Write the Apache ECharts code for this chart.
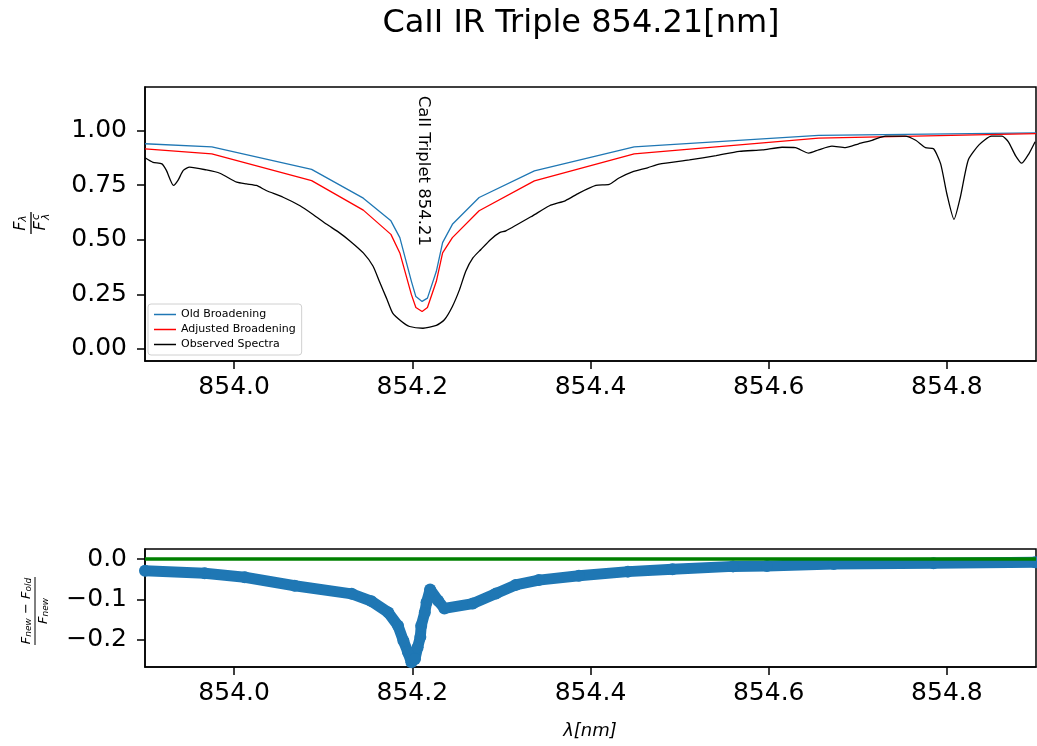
<!DOCTYPE html>
<html>
<head>
<meta charset="utf-8">
<script src="https://cdn.jsdelivr.net/npm/echarts@6/dist/echarts.min.js"></script>
<style>
  html, body { margin: 0; padding: 0; background: #fff; }
  #main { width: 1037px; height: 746px; }
</style>
</head>
<body>
<div id="main"></div>
<script>
// model grid (sparse)
const wlModel = [853.900, 853.975, 854.087, 854.145, 854.176, 854.186, 854.199, 854.204, 854.211,
  854.217, 854.227, 854.234, 854.245, 854.275, 854.337, 854.449, 854.656, 854.900]
const fluxOld = [0.940, 0.926, 0.823, 0.691, 0.587, 0.510, 0.310, 0.240, 0.218,
  0.233, 0.356, 0.487, 0.571, 0.694, 0.816, 0.926, 0.978, 0.990]
const fluxAdj = [0.917, 0.894, 0.771, 0.636, 0.525, 0.440, 0.249, 0.190, 0.172,
  0.190, 0.310, 0.440, 0.510, 0.633, 0.770, 0.894, 0.966, 0.986]

// observed spectrum
const wlObs = [853.900, 853.909, 853.919, 853.924, 853.932, 853.937, 853.943, 853.950, 853.969, 853.984,
  854.003, 854.014, 854.025, 854.036, 854.055, 854.074, 854.089, 854.104, 854.118, 854.130,
  854.145, 854.156, 854.163, 854.171, 854.178, 854.188, 854.197, 854.212, 854.227, 854.236,
  854.245, 854.253, 854.260, 854.268, 854.277, 854.288, 854.298, 854.305, 854.335, 854.354,
  854.372, 854.387, 854.406, 854.421, 854.432, 854.447, 854.464, 854.477, 854.511, 854.541,
  854.567, 854.593, 854.615, 854.630, 854.645, 854.656, 854.671, 854.686, 854.701, 854.716,
  854.731, 854.753, 854.765, 854.776, 854.785, 854.793, 854.800, 854.808, 854.815, 854.824,
  854.836, 854.850, 854.862, 854.869, 854.877, 854.884, 854.892, 854.899]
const fluxObs = [0.876, 0.855, 0.848, 0.818, 0.749, 0.772, 0.818, 0.833, 0.820, 0.805,
  0.764, 0.756, 0.749, 0.726, 0.695, 0.656, 0.615, 0.571, 0.533, 0.495,
  0.440, 0.379, 0.310, 0.233, 0.164, 0.126, 0.103, 0.095, 0.108, 0.134,
  0.195, 0.272, 0.356, 0.417, 0.456, 0.502, 0.533, 0.541, 0.610, 0.656,
  0.680, 0.714, 0.749, 0.754, 0.783, 0.811, 0.830, 0.847, 0.866, 0.886,
  0.905, 0.912, 0.924, 0.922, 0.897, 0.912, 0.929, 0.922, 0.940, 0.956,
  0.975, 0.975, 0.956, 0.922, 0.917, 0.848, 0.710, 0.594, 0.694, 0.866,
  0.935, 0.975, 0.975, 0.949, 0.886, 0.851, 0.894, 0.949]

// relative difference (F_new - F_old) / F_new
const wlRes = [853.900, 853.967, 854.012, 854.068, 854.132, 854.154, 854.173, 854.184, 854.190, 854.195,
  854.199, 854.203, 854.206, 854.209, 854.210, 854.214, 854.216, 854.220, 854.229, 854.236,
  854.268, 854.294, 854.316, 854.342, 854.387, 854.442, 854.492, 854.560, 854.598, 854.673,
  854.785, 854.899]
const resid = [-0.029, -0.035, -0.045, -0.066, -0.086, -0.104, -0.132, -0.165, -0.202, -0.230,
  -0.255, -0.247, -0.218, -0.193, -0.165, -0.132, -0.107, -0.075, -0.103, -0.122,
  -0.110, -0.085, -0.064, -0.052, -0.041, -0.031, -0.025, -0.018, -0.017, -0.012,
  -0.010, -0.008]

const xTicks = [854.0, 854.2, 854.4, 854.6, 854.8]
const yTicksTop = [0, 0.25, 0.5, 0.75, 1.0]
const yTicksBottom = [-0.2, -0.1, 0.0]

const FONT = 'DejaVu Sans'
const zip = (xs, ys) => xs.map((x, i) => [x, ys[i]])
const minus = s => s.replace('-', '\u2212')

const chart = echarts.init(document.getElementById('main'))

const xAxisBase = (gridIndex) => ({
  type: 'value',
  gridIndex,
  min: 853.9,
  max: 854.9,
  axisLine: { show: true, onZero: false, lineStyle: { color: '#000', width: 1.5 } },
  axisTick: { show: true, length: 8, customValues: xTicks, lineStyle: { color: '#000', width: 1.5 } },
  axisLabel: {
    customValues: xTicks, margin: 14, color: '#000', fontSize: 25, fontFamily: FONT,
    formatter: v => v.toFixed(1)
  },
  splitLine: { show: false }
})

const option = {
  animation: false,
  backgroundColor: '#fff',
  grid: [
    { left: 145, right: 1, top: 87, height: 274, show: true, borderColor: '#000', borderWidth: 1.5 },
    { left: 145, right: 1, top: 549, height: 118, show: true, borderColor: '#000', borderWidth: 1.5 }
  ],
  legend: {
    data: ['Old Broadening', 'Adjusted Broadening', 'Observed Spectra'],
    orient: 'vertical',
    left: 148,
    top: 304,
    icon: 'rect',
    itemWidth: 22,
    itemHeight: 1.5,
    itemGap: 2,
    padding: [4, 6, 4, 6],
    backgroundColor: 'rgba(255,255,255,0.8)',
    borderColor: '#d0d0d0',
    borderWidth: 1,
    borderRadius: 3,
    textStyle: { fontSize: 11, fontFamily: FONT, color: '#000', lineHeight: 13 }
  },
  xAxis: [xAxisBase(0), xAxisBase(1)],
  yAxis: [
    {
      type: 'value', gridIndex: 0, min: -0.055, max: 1.2,
      axisLine: { show: true, onZero: false, lineStyle: { color: '#000', width: 1.5 } },
      axisTick: { show: true, length: 8, customValues: yTicksTop, lineStyle: { color: '#000', width: 1.5 } },
      axisLabel: {
        customValues: yTicksTop, margin: 18, color: '#000', fontSize: 25, fontFamily: FONT,
        formatter: v => v.toFixed(2)
      },
      splitLine: { show: false }
    },
    {
      type: 'value', gridIndex: 1, min: -0.267, max: 0.025,
      axisLine: { show: true, onZero: false, lineStyle: { color: '#000', width: 1.5 } },
      axisTick: { show: true, length: 8, customValues: yTicksBottom, lineStyle: { color: '#000', width: 1.5 } },
      axisLabel: {
        customValues: yTicksBottom, margin: 18, color: '#000', fontSize: 25, fontFamily: FONT,
        formatter: v => minus(v.toFixed(1))
      },
      splitLine: { show: false }
    }
  ],
  series: [
    {
      name: 'Old Broadening', type: 'line', xAxisIndex: 0, yAxisIndex: 0,
      data: zip(wlModel, fluxOld), showSymbol: false,
      lineStyle: { color: '#1f77b4', width: 1.3 }, itemStyle: { color: '#1f77b4' }
    },
    {
      name: 'Adjusted Broadening', type: 'line', xAxisIndex: 0, yAxisIndex: 0,
      data: zip(wlModel, fluxAdj), showSymbol: false,
      lineStyle: { color: '#ff0000', width: 1.3 }, itemStyle: { color: '#ff0000' }
    },
    {
      name: 'Observed Spectra', type: 'line', xAxisIndex: 0, yAxisIndex: 0,
      data: zip(wlObs, fluxObs), showSymbol: false, smooth: 0.2,
      lineStyle: { color: '#000', width: 1.3 }, itemStyle: { color: '#000' }
    },
    {
      name: 'diff', type: 'line', xAxisIndex: 1, yAxisIndex: 1,
      data: zip(wlRes, resid), showSymbol: true, symbol: 'circle', symbolSize: 12,
      lineStyle: { color: '#1f77b4', width: 11 }, itemStyle: { color: '#1f77b4' }
    },
    {
      name: 'zero', type: 'line', xAxisIndex: 1, yAxisIndex: 1, z: 5,
      data: [[853.9, 0], [854.9, 0]], showSymbol: false,
      lineStyle: { color: '#008000', width: 3.5 }
    }
  ]
}

chart.setOption(option)

// annotation + labels
const ann = chart.convertToPixel({ gridIndex: 0 }, [854.212, 1.16])
const ital = { fontStyle: 'italic', fontFamily: FONT, fill: '#000' }

chart.setOption({
  graphic: [
    {
      type: 'text', x: 581, y: 24,
      style: { text: 'CaII IR Triple 854.21[nm]', fontSize: 32, fontFamily: FONT, fill: '#000',
        align: 'center', verticalAlign: 'middle', textAlign: 'center', textVerticalAlign: 'middle' }
    },
    {
      type: 'text', x: ann[0], y: ann[1], rotation: -Math.PI / 2,
      style: { text: 'CaII Triplet 854.21', fontSize: 16.5, fontFamily: FONT, fill: '#000',
        align: 'left', verticalAlign: 'middle', textAlign: 'left', textVerticalAlign: 'middle' }
    },
    {
      type: 'text', x: 590, y: 731,
      style: { text: 'λ[nm]', fontSize: 18, ...ital,
        align: 'center', verticalAlign: 'middle', textAlign: 'center', textVerticalAlign: 'middle' }
    },
    {
      type: 'group', x: 31, y: 223, rotation: Math.PI / 2,
      children: [
        { type: 'line', shape: { x1: -11, y1: 0, x2: 11, y2: 0 }, style: { stroke: '#000', lineWidth: 1.3 } },
        { type: 'text', x: 0, y: -2, style: { text: '{f|F}{s|λ}',
          rich: { f: { fontSize: 16, ...ital }, s: { fontSize: 11, ...ital, verticalAlign: 'bottom' } },
          align: 'center', verticalAlign: 'bottom', textAlign: 'center', textVerticalAlign: 'bottom' } },
        { type: 'text', x: -3, y: 2, style: { text: 'F', fontSize: 16, ...ital,
          align: 'center', verticalAlign: 'top', textAlign: 'center', textVerticalAlign: 'top' } },
        { type: 'text', x: 3, y: 0, style: { text: 'c', fontSize: 11, ...ital,
          align: 'left', verticalAlign: 'top', textAlign: 'left', textVerticalAlign: 'top' } },
        { type: 'text', x: 3, y: 10, style: { text: 'λ', fontSize: 11, ...ital,
          align: 'left', verticalAlign: 'top', textAlign: 'left', textVerticalAlign: 'top' } }
      ]
    },
    {
      type: 'group', x: 35, y: 611, rotation: Math.PI / 2,
      children: [
        { type: 'line', shape: { x1: -34, y1: 0, x2: 34, y2: 0 }, style: { stroke: '#000', lineWidth: 1 } },
        { type: 'text', x: 0, y: -2, style: { text: '{f|F}{s|new}{o| − }{f|F}{s|old}',
          rich: { f: { fontSize: 13, ...ital }, s: { fontSize: 9, ...ital, verticalAlign: 'bottom' },
            o: { fontSize: 13, fontFamily: FONT, fill: '#000' } },
          align: 'center', verticalAlign: 'bottom', textAlign: 'center', textVerticalAlign: 'bottom' } },
        { type: 'text', x: 0, y: 2, style: { text: '{f|F}{s|new}',
          rich: { f: { fontSize: 13, ...ital }, s: { fontSize: 9, ...ital, verticalAlign: 'bottom' } },
          align: 'center', verticalAlign: 'top', textAlign: 'center', textVerticalAlign: 'top' } }
      ]
    }
  ]
})
</script>
</body>
</html>
